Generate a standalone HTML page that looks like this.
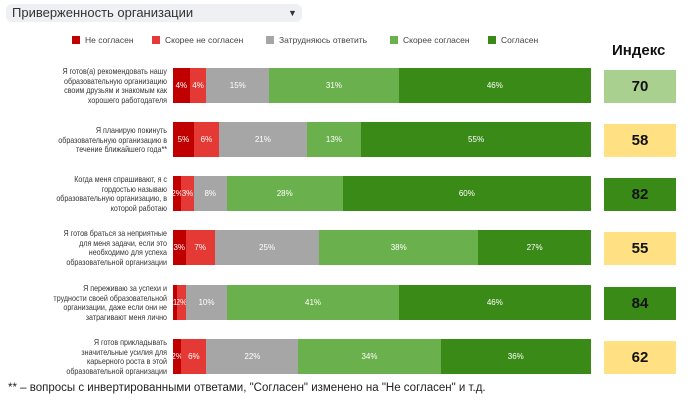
<!DOCTYPE html>
<html><head><meta charset="utf-8"><style>
body{margin:0;width:700px;height:412px;background:#fff;font-family:"Liberation Sans",sans-serif;position:relative;overflow:hidden}
.a{position:absolute}
.hdr{left:6px;top:4px;width:296px;height:18px;background:#eef0f3;border-radius:6px;font-size:13px;color:#333;line-height:18px;padding-left:6px;box-sizing:border-box}
.lg{top:35px;font-size:8.5px;color:#444;display:flex;align-items:center;gap:5px}
.lg i{display:inline-block;width:8px;height:8px}
.lab{left:17px;width:150px;text-align:right;font-size:8.4px;line-height:9.6px;color:#333;transform:scaleX(0.85);transform-origin:right top;white-space:nowrap}
.bar{left:173px;width:418px;height:35px;display:flex}
.bar div{height:100%;color:#fff;font-size:8px;display:flex;align-items:center;justify-content:center;overflow:hidden;white-space:nowrap}
.ix{left:604px;width:72px;height:33px;font-weight:bold;font-size:15px;display:flex;align-items:center;justify-content:center;color:#111}
</style></head><body>
<div class="a hdr">Приверженность организации<span style="position:absolute;left:282px;font-size:9px">▼</span></div>
<div class="a lg" style="left:72px"><i style="background:#c00000"></i>Не согласен</div>
<div class="a lg" style="left:152px"><i style="background:#e53935"></i>Скорее не согласен</div>
<div class="a lg" style="left:266px"><i style="background:#a6a6a6"></i>Затрудняюсь ответить</div>
<div class="a lg" style="left:390px"><i style="background:#6ab04c"></i>Скорее согласен</div>
<div class="a lg" style="left:488px"><i style="background:#3a8a17"></i>Согласен</div>
<div class="a" style="left:612px;top:42px;font-size:15px;font-weight:bold;color:#111">Индекс</div>

<div class="a lab" style="top:67px">Я готов(а) рекомендовать нашу<br>образовательную организацию<br>своим друзьям и знакомым как<br>хорошего работодателя</div>
<div class="a bar" style="top:68px"><div style="flex:4;background:#c00000">4%</div><div style="flex:4;background:#e53935">4%</div><div style="flex:15;background:#a6a6a6">15%</div><div style="flex:31;background:#6ab04c">31%</div><div style="flex:46;background:#3a8a17">46%</div></div>
<div class="a ix" style="top:70px;background:#a9d08e">70</div>

<div class="a lab" style="top:126px">Я планирую покинуть<br>образовательную организацию в<br>течение ближайшего года**</div>
<div class="a bar" style="top:122px"><div style="flex:5;background:#c00000">5%</div><div style="flex:6;background:#e53935">6%</div><div style="flex:21;background:#a6a6a6">21%</div><div style="flex:13;background:#6ab04c">13%</div><div style="flex:55;background:#3a8a17">55%</div></div>
<div class="a ix" style="top:124px;background:#ffe082">58</div>

<div class="a lab" style="top:175px">Когда меня спрашивают, я с<br>гордостью называю<br>образовательную организацию, в<br>которой работаю</div>
<div class="a bar" style="top:176px"><div style="flex:2;background:#c00000">2%</div><div style="flex:3;background:#e53935">3%</div><div style="flex:8;background:#a6a6a6">8%</div><div style="flex:28;background:#6ab04c">28%</div><div style="flex:60;background:#3a8a17">60%</div></div>
<div class="a ix" style="top:178px;background:#3a8a17">82</div>

<div class="a lab" style="top:229px">Я готов браться за неприятные<br>для меня задачи, если это<br>необходимо для успеха<br>образовательной организации</div>
<div class="a bar" style="top:230px"><div style="flex:3;background:#c00000">3%</div><div style="flex:7;background:#e53935">7%</div><div style="flex:25;background:#a6a6a6">25%</div><div style="flex:38;background:#6ab04c">38%</div><div style="flex:27;background:#3a8a17">27%</div></div>
<div class="a ix" style="top:232px;background:#ffe082">55</div>

<div class="a lab" style="top:284px">Я переживаю за успехи и<br>трудности своей образовательной<br>организации, даже если они не<br>затрагивают меня лично</div>
<div class="a bar" style="top:285px"><div style="flex:1;background:#c00000">1</div><div style="flex:2;background:#e53935">2%</div><div style="flex:10;background:#a6a6a6">10%</div><div style="flex:41;background:#6ab04c">41%</div><div style="flex:46;background:#3a8a17">46%</div></div>
<div class="a ix" style="top:287px;background:#3a8a17">84</div>

<div class="a lab" style="top:338px">Я готов прикладывать<br>значительные усилия для<br>карьерного роста в этой<br>образовательной организации</div>
<div class="a bar" style="top:339px"><div style="flex:2;background:#c00000">2%</div><div style="flex:6;background:#e53935">6%</div><div style="flex:22;background:#a6a6a6">22%</div><div style="flex:34;background:#6ab04c">34%</div><div style="flex:36;background:#3a8a17">36%</div></div>
<div class="a ix" style="top:341px;background:#ffe082">62</div>

<div class="a" style="left:8px;top:382px;font-size:11.5px;color:#222">** – вопросы с инвертированными ответами, "Согласен" изменено на "Не согласен" и т.д.</div>
</body></html>
